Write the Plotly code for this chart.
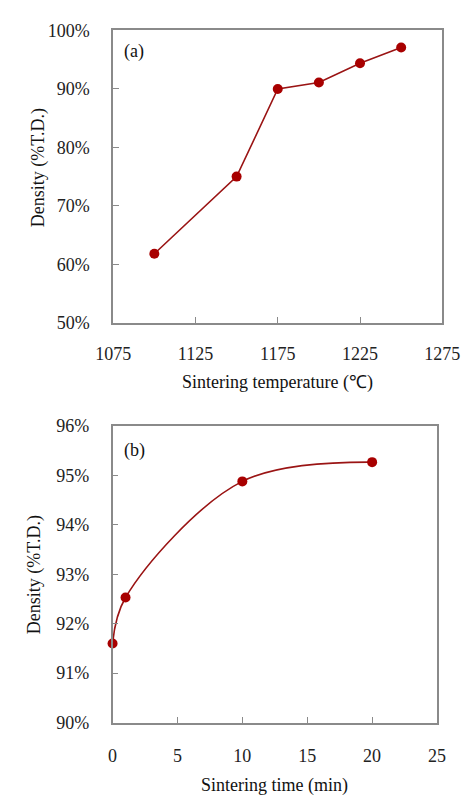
import plotly.graph_objects as go

# Data
temp_c = [1100, 1150, 1175, 1200, 1225, 1250]
density_temp = [61.8, 75.0, 90.0, 91.1, 94.4, 97.1]

time_min = [0, 1, 10, 20]
density_time = [91.6, 92.53, 94.88, 95.27]

x1_ticks = [1075, 1125, 1175, 1225, 1275]
y1_ticks = [50, 60, 70, 80, 90, 100]
x2_ticks = [0, 5, 10, 15, 20, 25]
y2_ticks = [90, 91, 92, 93, 94, 95, 96]

W, H = 476, 803
FONT = "Liberation Serif, Times New Roman, serif"
LINE_C = "#9A1414"
MARK_C = "#A80000"
AX_C = "#8A8A8A"

def px(x):
    return x / W

def py(y):
    return 1 - y / H

fig = go.Figure()
fig.add_trace(go.Scatter(x=temp_c, y=density_temp, mode="lines+markers",
                         line=dict(color=LINE_C, width=1.6),
                         marker=dict(color=MARK_C, size=10),
                         xaxis="x", yaxis="y", showlegend=False))
fig.add_trace(go.Scatter(x=time_min, y=density_time, mode="lines+markers",
                         line=dict(color=LINE_C, width=1.6, shape="spline", smoothing=1.0),
                         marker=dict(color=MARK_C, size=10),
                         xaxis="x2", yaxis="y2", showlegend=False, cliponaxis=False))

axis_common = dict(showgrid=False, zeroline=False, showline=True, linecolor=AX_C,
                   linewidth=1.5, mirror=True, ticks="inside", ticklen=6,
                   tickcolor=AX_C, tickwidth=1.2, tickmode="array",
                   tickfont=dict(family=FONT, size=18, color="#222"))

fig.update_layout(
    width=W, height=H, margin=dict(l=0, r=0, t=0, b=0),
    paper_bgcolor="white", plot_bgcolor="white",
    font=dict(family=FONT, size=18, color="#222"),
    xaxis=dict(domain=[px(103), px(459)], anchor="y", range=[1075, 1275],
               tickvals=x1_ticks, ticktext=[str(v) for v in x1_ticks],
               ticklabelstandoff=14, **axis_common),
    yaxis=dict(domain=[py(320.7), py(21)], anchor="x", range=[50, 100],
               tickvals=y1_ticks, ticktext=[f"{v}%" for v in y1_ticks],
               ticklabelstandoff=18, **axis_common),
    xaxis2=dict(domain=[px(102.3), px(453.3)], anchor="y2", range=[0, 25],
                tickvals=x2_ticks, ticktext=[str(v) for v in x2_ticks],
                ticklabelstandoff=16, **axis_common),
    yaxis2=dict(domain=[py(730.7), py(426.7)], anchor="x2", range=[90, 96],
                tickvals=y2_ticks, ticktext=[f"{v}%" for v in y2_ticks],
                ticklabelstandoff=18, **axis_common),
)

def ann(text, x, y, size=18, angle=0):
    fig.add_annotation(text=text, x=px(x), y=py(y), xref="paper", yref="paper",
                       showarrow=False, textangle=angle,
                       font=dict(family=FONT, size=size, color="#111"),
                       xanchor="center", yanchor="middle")

ann("(a)", 126, 43)
ann("(b)", 125.5, 451.7)
ann("Sintering temperature (℃)", 281, 382)
ann("Density (%T.D.)", 23, 162, angle=-90)
ann("Sintering time (min)", 278, 795)
ann("Density (%T.D.)", 18, 579, angle=-90)

fig.write_html("out.html")
